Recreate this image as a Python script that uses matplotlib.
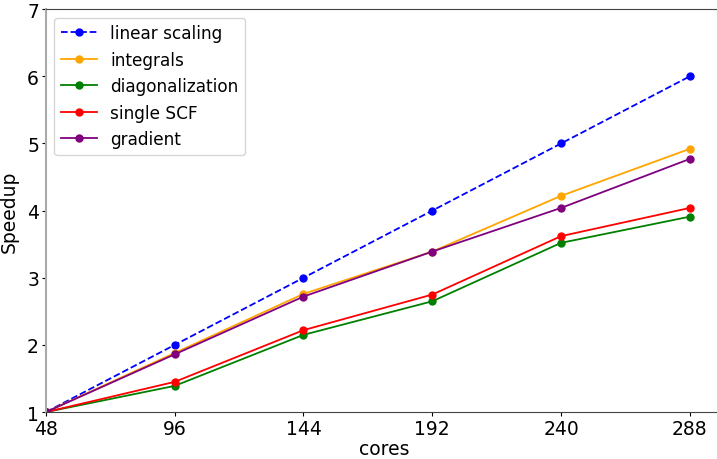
import matplotlib

matplotlib.use("Agg")
import matplotlib.pyplot as plt

cores = [48, 96, 144, 192, 240, 288]
linear = [1, 2, 3, 4, 5, 6]
integrals = [1, 1.88, 2.76, 3.39, 4.22, 4.92]
diagonalization = [1, 1.39, 2.15, 2.65, 3.52, 3.91]
single_scf = [1, 1.45, 2.22, 2.75, 3.62, 4.04]
gradient = [1, 1.86, 2.72, 3.39, 4.04, 4.77]

fig = plt.figure(figsize=(7.17, 4.6), dpi=100)
ax = fig.add_axes([0.064, 0.102, 0.945, 0.876])

ax.plot(cores, linear, "o--", color="blue", ms=5, lw=1.3, label="linear scaling")
ax.plot(cores, integrals, "o-", color="orange", ms=5, lw=1.3, label="integrals")
ax.plot(cores, diagonalization, "o-", color="green", ms=5, lw=1.3, label="diagonalization")
ax.plot(cores, single_scf, "o-", color="red", ms=5, lw=1.3, label="single SCF")
ax.plot(cores, gradient, "o-", color="purple", ms=5, lw=1.3, label="gradient")

ax.set_xlim(48, 300.5)
ax.set_ylim(1, 7)
ax.set_xticks(cores)
ax.set_yticks(range(1, 8))
ax.tick_params(labelsize=13.5, pad=2, length=3)
ax.set_xlabel("cores", fontsize=13.5, labelpad=1)
ax.set_ylabel("Speedup", fontsize=13.5, labelpad=6)
for s in ax.spines.values():
    s.set_color("#444444")
ax.spines["right"].set_visible(False)
ax.spines["left"].set_color("#aaaaaa")
ax.spines["left"].set_linewidth(1.5)
ax.legend(loc="upper left", fontsize=12.2, handlelength=2.1, borderaxespad=0.5)

fig.savefig("out.png", dpi=100)
